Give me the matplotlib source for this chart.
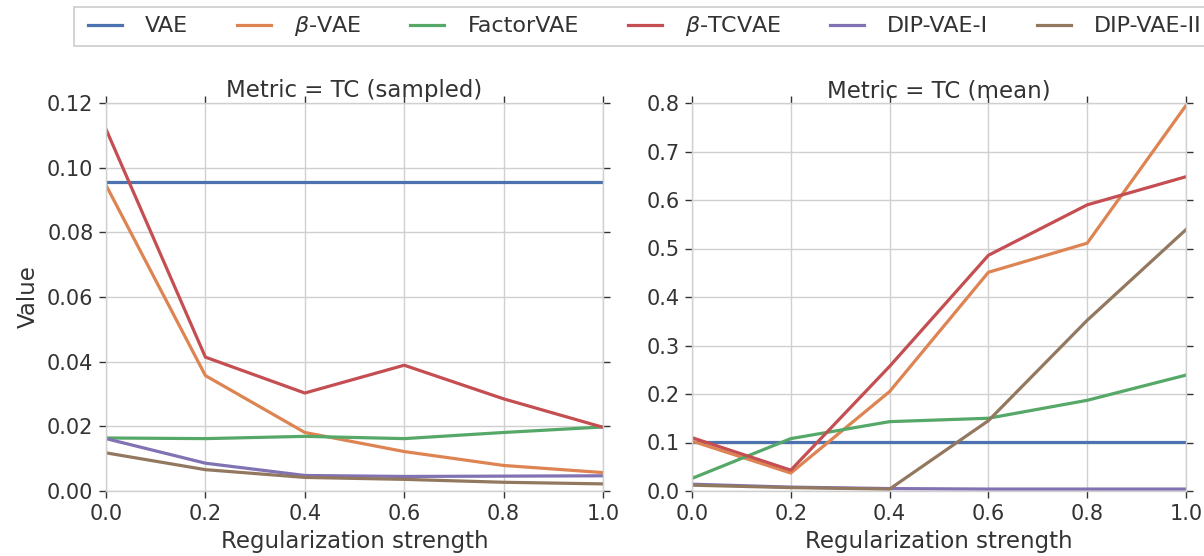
import matplotlib
matplotlib.use("Agg")
import matplotlib.pyplot as plt
from matplotlib.patches import Rectangle

x = [0.0, 0.2, 0.4, 0.6, 0.8, 1.0]
models = ["VAE", r"$\beta$-VAE", "FactorVAE", r"$\beta$-TCVAE", "DIP-VAE-I", "DIP-VAE-II"]
colors = ["#4C72B0", "#DD8452", "#55A868", "#C44E52", "#8172B3", "#937860"]

# Metric = TC (sampled)
sampled_vae = [0.0956, 0.0956, 0.0956, 0.0956, 0.0956, 0.0956]
sampled_beta_vae = [0.0946, 0.0357, 0.0181, 0.0122, 0.0079, 0.0057]
sampled_factor_vae = [0.0164, 0.0162, 0.0169, 0.0162, 0.0181, 0.0198]
sampled_beta_tcvae = [0.1119, 0.0414, 0.0303, 0.0389, 0.0285, 0.0197]
sampled_dip_i = [0.0162, 0.0086, 0.0048, 0.0045, 0.0046, 0.0047]
sampled_dip_ii = [0.0118, 0.0066, 0.0042, 0.0036, 0.0027, 0.0022]

# Metric = TC (mean)
mean_vae = [0.102, 0.102, 0.102, 0.102, 0.102, 0.102]
mean_beta_vae = [0.103, 0.037, 0.205, 0.451, 0.511, 0.795]
mean_factor_vae = [0.026, 0.108, 0.143, 0.150, 0.187, 0.239]
mean_beta_tcvae = [0.110, 0.043, 0.257, 0.486, 0.590, 0.648]
mean_dip_i = [0.014, 0.008, 0.005, 0.004, 0.004, 0.004]
mean_dip_ii = [0.012, 0.007, 0.004, 0.145, 0.352, 0.539]

sampled_yticks = [0, 0.02, 0.04, 0.06, 0.08, 0.10, 0.12]
mean_yticks = [0, 0.1, 0.2, 0.3, 0.4, 0.5, 0.6, 0.7, 0.8]

panels = [
    ("Metric = TC (sampled)",
     [sampled_vae, sampled_beta_vae, sampled_factor_vae, sampled_beta_tcvae, sampled_dip_i, sampled_dip_ii],
     (0, 0.12), sampled_yticks, "{:.2f}"),
    ("Metric = TC (mean)",
     [mean_vae, mean_beta_vae, mean_factor_vae, mean_beta_tcvae, mean_dip_i, mean_dip_ii],
     (0, 0.8), mean_yticks, "{:.1f}"),
]

W, H = 1204, 556
fig = plt.figure(figsize=(W / 100, H / 100), dpi=100)
axes_px = [(106, 603), (692, 1186)]
top_px, bot_px = 103, 491

text_color = "#333333"
grid_color = "#d0d0d0"
handles = None
for (x0, x1), (title, series, ylim, yticks, fmt) in zip(axes_px, panels):
    ax = fig.add_axes([x0 / W, 1 - bot_px / H, (x1 - x0) / W, (bot_px - top_px) / H])
    lines = []
    for name, vals, c in zip(models, series, colors):
        ln, = ax.plot(x, vals, color=c, lw=2.3, label=name)
        lines.append(ln)
    handles = lines
    ax.set_xlim(0, 1)
    ax.set_ylim(*ylim)
    ax.set_xticks(x)
    ax.set_xticklabels(["{:.1f}".format(v) for v in x])
    ax.set_yticks(yticks)
    ax.set_yticklabels([fmt.format(v) for v in yticks])
    ax.grid(True, color=grid_color, lw=1)
    ax.set_axisbelow(True)
    for s in ax.spines.values():
        s.set_color(grid_color)
        s.set_linewidth(1)
    ax.tick_params(direction="out", length=5, width=1.0, color="#333333",
                   labelsize=15, labelcolor=text_color, top=True, right=True,
                   labeltop=False, labelright=False, pad=4)
    ax.set_xlabel("Regularization strength", fontsize=16.5, color=text_color, labelpad=5)
    ax.set_title(title, fontsize=16.5, color=text_color, pad=4)

fig.axes[0].set_ylabel("Value", fontsize=16.5, color=text_color, labelpad=5)

# legend frame
fig.patches.append(Rectangle((74 / W, 1 - 46 / H), (1215 - 74) / W, (46 - 7) / H,
                             transform=fig.transFigure, facecolor="white",
                             edgecolor="#cccccc", lw=1.2, zorder=0))
leg = fig.legend(handles=handles, labels=models, loc="center left",
                 bbox_to_anchor=(88 / W, 1 - 26.5 / H), ncol=6, fontsize=16,
                 frameon=False, borderpad=0, borderaxespad=0,
                 handlelength=1.53, handletextpad=1.04, columnspacing=2.2)
for t in leg.get_texts():
    t.set_color(text_color)

fig.savefig("out.png", dpi=100)
